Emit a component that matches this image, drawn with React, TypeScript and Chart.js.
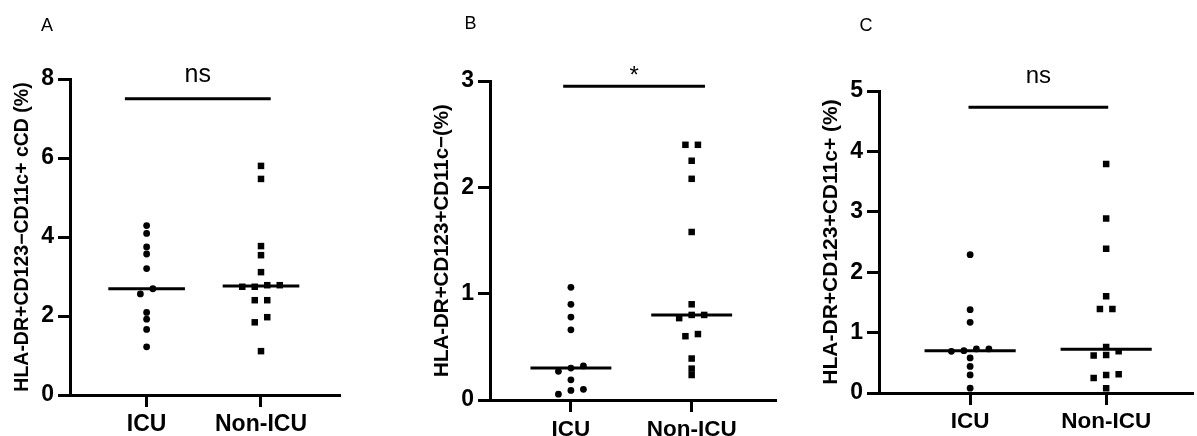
import React, { useEffect, useRef } from 'react';
import { Chart, registerables } from 'chart.js';

Chart.register(...registerables);

const FONT = '"Liberation Sans", Arial, sans-serif';

// Categories
const groups = ['ICU', 'Non-ICU'];

// Panel A
const aIcu = [4.29, 4.09, 3.75, 3.57, 3.2, 2.69, 2.56, 2.09, 1.92, 1.66, 1.22];
const aNonIcu = [5.8, 5.47, 3.77, 3.54, 3.11, 2.78, 2.78, 2.74, 2.74, 2.4, 2.4, 1.97, 1.84, 1.11];
const aTicks = [0, 2, 4, 6, 8];
const aSigBar = [0.81, 2.085, 7.5]; // from, to, value
const aSigText = 'ns';

// Panel B
const bIcu = [1.06, 0.9, 0.78, 0.66, 0.32, 0.3, 0.27, 0.19, 0.1, 0.09, 0.055];
const bNonIcu = [2.4, 2.4, 2.25, 2.08, 1.58, 0.9, 0.8, 0.8, 0.77, 0.62, 0.6, 0.39, 0.295, 0.235];
const bTicks = [0, 1, 2, 3];
const bSigBar = [0.936, 2.11, 2.95];
const bSigText = '*';

// Panel C
const cIcu = [2.29, 1.38, 1.17, 0.73, 0.73, 0.7, 0.69, 0.58, 0.44, 0.3, 0.08];
const cNonIcu = [3.79, 2.89, 2.39, 1.6, 1.39, 1.39, 0.76, 0.69, 0.63, 0.62, 0.31, 0.3, 0.25, 0.08];
const cTicks = [0, 1, 2, 3, 4, 5];
const cSigBar = [0.988, 2.015, 4.73];
const cSigText = 'ns';

type PanelCfg = {
  letter: string;
  letterX: number;
  letterY: number;
  left: number;
  width: number;
  area: { left: number; right: number; top: number; bottom: number };
  yTitle: string;
  titleSize: number;
  titleCenter: number;
  tickSize: number;
  xLabelSize: number;
  xLabelPad: number;
  xMax: number;
  yTicks: number[];
  icu: number[];
  non: number[];
  sigBar: number[];
  sigText: string;
  sigSize: number;
  sigGap: number;
};

const H = 436;

const panels: PanelCfg[] = [
  {
    letter: 'A', letterX: 47, letterY: 24.5, left: 0, width: 400,
    area: { left: 70, right: 339, top: 79, bottom: 395 },
    yTitle: 'HLA-DR+CD123\u2212CD11c+ cCD (%)', titleSize: 19.5, titleCenter: 22.5,
    tickSize: 23, xLabelSize: 23, xLabelPad: 4, xMax: 2.682, yTicks: aTicks,
    icu: aIcu, non: aNonIcu, sigBar: aSigBar, sigText: aSigText, sigSize: 25, sigGap: 17,
  },
  {
    letter: 'B', letterX: 470.5, letterY: 22.5, left: 400, width: 397,
    area: { left: 90, right: 375, top: 81, bottom: 400 },
    yTitle: 'HLA-DR+CD123+CD11c\u2212(%)', titleSize: 20.5, titleCenter: 42.5,
    tickSize: 23, xLabelSize: 22.5, xLabelPad: 4, xMax: 2.69, yTicks: bTicks,
    icu: bIcu, non: bNonIcu, sigBar: bSigBar, sigText: bSigText, sigSize: 24, sigGap: 3,
  },
  {
    letter: 'C', letterX: 866, letterY: 25, left: 797, width: 400,
    area: { left: 82, right: 400, top: 91, bottom: 393 },
    yTitle: 'HLA-DR+CD123+CD11c+ (%)', titleSize: 21, titleCenter: 34,
    tickSize: 23, xLabelSize: 22.5, xLabelPad: 3, xMax: 2.634, yTicks: cTicks,
    icu: cIcu, non: cNonIcu, sigBar: cSigBar, sigText: cSigText, sigSize: 24, sigGap: 24,
  },
];

const MARK_ROW_PX = 6;
const MARK_STEP_PX = 12.5;
const MEDIAN_HALF = 0.335;

function median(values: number[]) {
  const s = [...values].sort((a, b) => a - b);
  const n = s.length;
  return n % 2 ? s[(n - 1) / 2] : (s[n / 2 - 1] + s[n / 2]) / 2;
}

function swarm(values: number[], center: number, ys: any, dxUnits: number) {
  const sorted = [...values].sort((a, b) => a - b);
  const rows: number[][] = [];
  let cur: number[] = [];
  let startPx = 0;
  for (const v of sorted) {
    const p = ys.getPixelForValue(v);
    if (cur.length && Math.abs(startPx - p) < MARK_ROW_PX) cur.push(v);
    else {
      if (cur.length) rows.push(cur);
      cur = [v];
      startPx = p;
    }
  }
  if (cur.length) rows.push(cur);
  const pts: { x: number; y: number }[] = [];
  for (const row of rows) {
    row.forEach((v, i) => pts.push({ x: center + (i - (row.length - 1) / 2) * dxUnits, y: v }));
  }
  return pts;
}

function PanelChart({ p }: { p: PanelCfg }) {
  const ref = useRef<HTMLCanvasElement>(null);
  useEffect(() => {
    const canvas = ref.current!;
    const mIcu = median(p.icu);
    const mNon = median(p.non);
    const lineDs = (data: { x: number; y: number }[]) => ({
      type: 'scatter' as const,
      data,
      showLine: true,
      borderColor: '#000',
      borderWidth: 3,
      pointRadius: 0,
      fill: false,
    });
    const gridOpts = {
      display: true,
      drawOnChartArea: false,
      drawTicks: true,
      tickLength: 12,
      tickWidth: 3,
      tickColor: '#000',
      color: '#000',
      lineWidth: 3,
    };
    const sigPlugin = {
      id: 'sigLabel',
      afterDatasetsDraw(chart: any) {
        const { ctx, scales } = chart;
        const x = scales.x.getPixelForValue((p.sigBar[0] + p.sigBar[1]) / 2);
        const y = scales.y.getPixelForValue(p.sigBar[2]) - p.sigGap;
        ctx.save();
        ctx.font = `${p.sigSize}px ${FONT}`;
        ctx.fillStyle = '#000';
        ctx.textAlign = 'center';
        ctx.textBaseline = 'alphabetic';
        ctx.fillText(p.sigText, x, y);
        ctx.restore();
      },
    };
    const chart = new Chart(canvas, {
      type: 'scatter',
      data: {
        datasets: [
          {
            data: p.icu.map((v) => ({ x: 1, y: v })),
            pointStyle: 'circle',
            pointRadius: 3.4,
            backgroundColor: '#000',
            borderWidth: 0,
          },
          {
            data: p.non.map((v) => ({ x: 2, y: v })),
            pointStyle: 'rect',
            pointRadius: 4.6,
            backgroundColor: '#000',
            borderWidth: 0,
          },
          lineDs([{ x: 1 - MEDIAN_HALF, y: mIcu }, { x: 1 + MEDIAN_HALF, y: mIcu }]),
          lineDs([{ x: 2 - MEDIAN_HALF, y: mNon }, { x: 2 + MEDIAN_HALF, y: mNon }]),
          lineDs([{ x: p.sigBar[0], y: p.sigBar[2] }, { x: p.sigBar[1], y: p.sigBar[2] }]),
        ] as any,
      },
      options: {
        animation: false,
        responsive: false,
        events: [],
        layout: { padding: { left: 0, right: p.width - p.area.right, top: p.area.top, bottom: 0 } },
        plugins: { legend: { display: false }, tooltip: { enabled: false } },
        scales: {
          x: {
            type: 'linear',
            min: 0.33,
            max: p.xMax,
            bounds: 'data',
            afterFit: (s: any) => { s.height = H - p.area.bottom; },
            afterBuildTicks: (s: any) => { s.ticks = groups.map((_, i) => ({ value: i + 1 })); },
            ticks: {
              callback: (v: any) => groups[Math.round(v) - 1] ?? '',
              font: { family: FONT, size: p.xLabelSize, weight: 'bold' },
              color: '#000',
              padding: p.xLabelPad,
              autoSkip: false,
              maxRotation: 0,
            },
            grid: gridOpts,
            border: { display: true, color: '#000', width: 3 },
          },
          y: {
            type: 'linear',
            min: 0,
            max: p.yTicks[p.yTicks.length - 1],
            bounds: 'data',
            afterFit: (s: any) => { s.width = p.area.left; },
            afterBuildTicks: (s: any) => { s.ticks = p.yTicks.map((v) => ({ value: v })); },
            ticks: {
              font: { family: FONT, size: p.tickSize, weight: 'bold' },
              color: '#000',
              padding: 4,
            },
            title: {
              display: true,
              text: p.yTitle,
              color: '#000',
              font: { family: FONT, size: p.titleSize, weight: 'bold' },
              padding: { top: p.titleCenter - (p.titleSize * 1.2) / 2, bottom: 0 },
            },
            grid: gridOpts,
            border: { display: true, color: '#000', width: 3 },
          },
        },
      } as any,
      plugins: [sigPlugin],
    });
    const xs = chart.scales.x;
    const ys = chart.scales.y;
    const unit = xs.getPixelForValue(2) - xs.getPixelForValue(1);
    const dx = MARK_STEP_PX / unit;
    (chart.data.datasets[0] as any).data = swarm(p.icu, 1, ys, dx);
    (chart.data.datasets[1] as any).data = swarm(p.non, 2, ys, dx);
    chart.update('none');
    return () => chart.destroy();
  }, [p]);
  return (
    <canvas
      ref={ref}
      width={p.width}
      height={H}
      style={{ position: 'absolute', left: p.left, top: 0, width: p.width, height: H }}
    />
  );
}

export default function App() {
  return (
    <div
      style={{
        position: 'fixed',
        left: 0,
        top: 0,
        width: 1197,
        height: H,
        overflow: 'hidden',
        background: '#fff',
      }}
    >
      {panels.map((p) => (
        <PanelChart key={p.letter} p={p} />
      ))}
      {panels.map((p) => (
        <div
          key={'l' + p.letter}
          style={{
            position: 'absolute',
            left: p.letterX - 15,
            width: 30,
            top: p.letterY - 11,
            lineHeight: '22px',
            textAlign: 'center',
            fontFamily: FONT,
            fontSize: 18,
            color: '#000',
          }}
        >
          {p.letter}
        </div>
      ))}
    </div>
  );
}
